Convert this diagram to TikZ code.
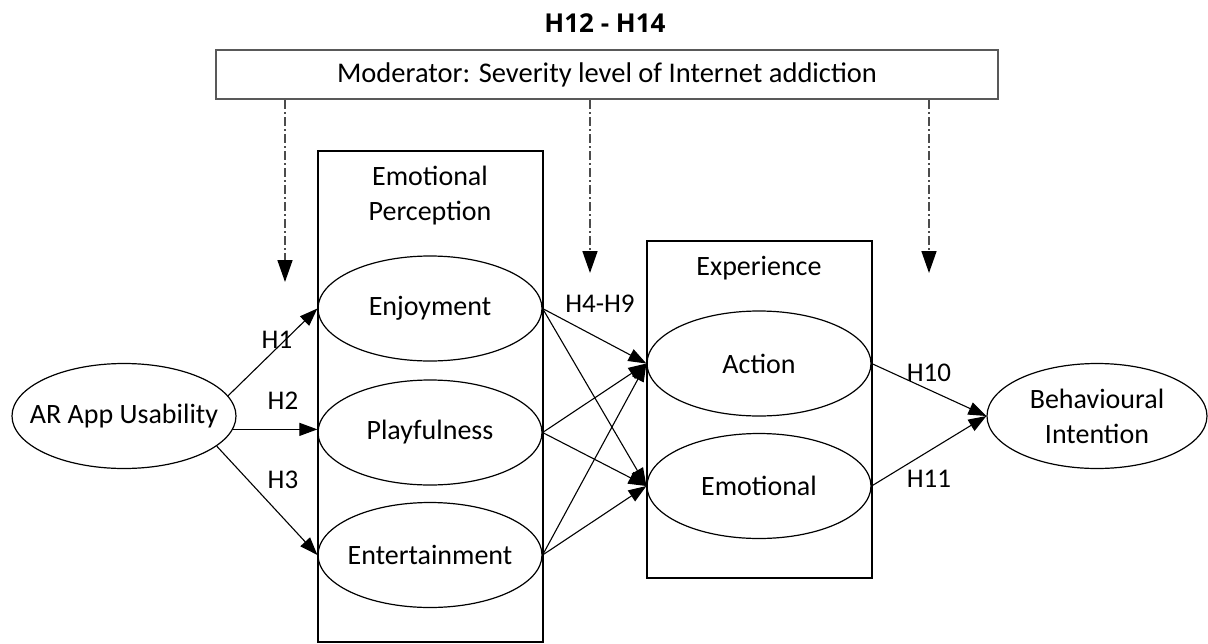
\documentclass[tikz,border=0pt]{standalone}
\usepackage{fontspec}
\setmainfont{Carlito}
\newfontfamily\titlefont{Open Sans}
\usetikzlibrary{positioning}
\usetikzlibrary{arrows.meta,shapes.geometric}
\tikzset{
    every picture/.style={>={Triangle[length=18pt,width=13pt]},x=1pt,y=-1pt},
    construct/.style={draw,ellipse,line width=1.2pt,inner xsep=-45pt,inner ysep=0pt,
        minimum width=224pt,minimum height=105pt,align=center,
        font=\fontsize{28}{35}\selectfont},
    groupbox/.style={draw,line width=1.4pt,inner sep=0pt},
    grouplabel/.style={align=center,font=\fontsize{28}{35}\selectfont},
    hyp/.style={font=\fontsize{27}{30}\selectfont,inner sep=1pt},
    link/.style={line width=1.1pt},
    modarrow/.style={draw=black!70,line width=1.6pt,
        dash pattern=on 9pt off 3pt on 2pt off 3pt,
        -{Triangle[length=22pt,width=15pt,color=black]}},
}

\begin{document}
\begin{tikzpicture}
\useasboundingbox (0,0) rectangle (1208,643);

% moderator
\node[font=\titlefont\bfseries\fontsize{26}{30}\selectfont] (title) at (605,23) {H12 - H14};
\node[draw=black!65,line width=2pt,minimum width=782pt,minimum height=49pt,
      font=\fontsize{28.5}{32}\selectfont] (moderator) at (607,74.5)
      {Moderator: Severity level of Internet addiction};

% groups
\node[groupbox,minimum width=225pt,minimum height=491pt] (perception) at (430.5,396.5) {};
\node[grouplabel] (perclabel) at (430,196) {Emotional\\Perception};
\node[groupbox,minimum width=225pt,minimum height=337pt] (experience) at (759.5,409.5) {};
\node[grouplabel] (explabel) at (759,268) {Experience};

% constructs
\node[construct] (usab) at (124,416) {AR App Usability};
\node[construct] (enj) at (430,308.5) {Enjoyment};
\node[construct] (play) at (430,432.5) {Playfulness};
\node[construct] (ent) at (430,555) {Entertainment};
\node[construct] (act) at (759,363.5) {Action};
\node[construct] (emo) at (759,486) {Emotional};
\node[construct,minimum width=220pt] (beh) at (1097,416) {Behavioural\\Intention};

% moderator arrows
\foreach \x/\y [count=\i] in {285/282,590/273,929/273}{
  \coordinate (m\i) at (\x,\y);
  \draw[modarrow] (moderator.south -| m\i) -- (m\i);
}

% paths
\path[link]
(usab.11) edge[->] (enj.west)
(usab.-7) edge[->] (usab.-7 -| play.west)
(usab.-18) edge[->] (ent.west)
(enj.east) edge[->] (act.west)
(enj.east) edge[->] (emo.west)
(play.east) edge[->] (act.west)
(play.east) edge[->] (emo.west)
(ent.east) edge[->] (act.west)
(ent.east) edge[->] (emo.west)
(act.east) edge[->] (beh.west)
(emo.east) edge[->] (beh.west)
;

% labels
\node[hyp] (h1) at (277,340) {H1};
\node[hyp] (h2) at (283,401) {H2};
\node[hyp] (h3) at (283,480) {H3};
\node[hyp] (h49) at (600,304) {H4-H9};
\node[hyp] (h10) at (929,373) {H10};
\node[hyp] (h11) at (929,479) {H11};

\end{tikzpicture}
\end{document}
